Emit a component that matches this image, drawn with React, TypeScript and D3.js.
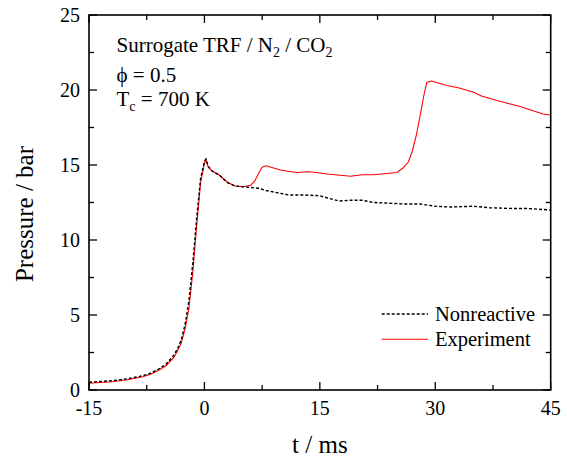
import React from "react";
import * as d3 from "d3";

const W = 567;
const H = 457;

// Nonreactive (dashed black)
const nonTime = [-15, -12, -10, -8, -7, -6, -5, -4, -3.5, -3, -2.5, -2, -1.5, -1, -0.5, 0, 0.2, 0.5, 1, 2, 3, 4, 5, 6, 7, 8, 10, 11, 13, 15, 16, 17.5, 19, 20.5, 22, 24, 26, 28, 30, 32, 35, 37, 40, 42, 45];
const nonPressure = [0.52, 0.62, 0.75, 0.95, 1.12, 1.38, 1.72, 2.3, 2.75, 3.35, 4.4, 6.0, 8.5, 11.5, 14.1, 15.25, 15.4, 14.9, 14.6, 14.3, 13.82, 13.6, 13.55, 13.5, 13.45, 13.3, 13.1, 13.0, 13.0, 12.95, 12.8, 12.6, 12.65, 12.65, 12.5, 12.45, 12.4, 12.4, 12.25, 12.2, 12.25, 12.15, 12.1, 12.1, 12.0];

// Experiment (solid red)
const expTime = [-15, -12, -10, -8, -7, -6, -5, -4, -3.5, -3, -2.5, -2, -1.5, -1, -0.5, 0, 0.2, 0.5, 1, 2, 3, 4, 5, 6, 6.5, 7, 7.5, 8, 9, 10, 12, 13.5, 14.5, 16, 18, 19, 20.5, 22, 23, 25, 25.8, 26.5, 27, 27.5, 28, 28.5, 28.9, 29.5, 30.5, 31.5, 33, 35, 36, 37, 38, 39.5, 41, 42.5, 44, 45];
const expPressure = [0.45, 0.55, 0.68, 0.88, 1.05, 1.3, 1.62, 2.15, 2.6, 3.15, 4.1, 5.5, 7.9, 11.0, 13.8, 15.1, 15.35, 14.85, 14.6, 14.3, 13.85, 13.6, 13.55, 13.65, 13.9, 14.4, 14.85, 14.95, 14.8, 14.65, 14.5, 14.55, 14.5, 14.4, 14.3, 14.25, 14.35, 14.35, 14.4, 14.5, 14.8, 15.2, 15.9, 16.9, 18.2, 19.6, 20.5, 20.6, 20.45, 20.3, 20.15, 19.85, 19.6, 19.45, 19.3, 19.1, 18.9, 18.65, 18.4, 18.33];

const xMajorTicks = [-15, 0, 15, 30, 45];
const xMinorTicks = [-7.5, 7.5, 22.5, 37.5];
const yMajorTicks = [0, 5, 10, 15, 20, 25];
const yMinorTicks = [2.5, 7.5, 12.5, 17.5, 22.5];

const FONT = "'Liberation Serif', 'Times New Roman', serif";

export default function App() {
  const left = 89;
  const right = 550.7;
  const top = 15;
  const bottom = 390;

  const x = d3.scaleLinear().domain([-15, 45]).range([left, right]);
  const y = d3.scaleLinear().domain([0, 25]).range([bottom, top]);

  const line = d3
    .line<[number, number]>()
    .x((d) => x(d[0]))
    .y((d) => y(d[1]));

  const nonData: [number, number][] = nonTime.map((t, i) => [t, nonPressure[i]]);
  const expData: [number, number][] = expTime.map((t, i) => [t, expPressure[i]]);

  const majorLen = 8;
  const minorLen = 5;

  return (
    <svg
      width={W}
      height={H}
      style={{ position: "absolute", left: 0, top: 0, background: "#fff" }}
      fontFamily={FONT}
    >
      <rect x={0} y={0} width={W} height={H} fill="#fff" />
      <defs>
        <clipPath id="plotclip">
          <rect x={left} y={top} width={right - left} height={bottom - top} />
        </clipPath>
      </defs>

      {/* data */}
      <g clipPath="url(#plotclip)">
        <path d={line(expData) || ""} fill="none" stroke="#ff0000" strokeWidth={1.1} />
        <path
          d={line(nonData) || ""}
          fill="none"
          stroke="#000"
          strokeWidth={1.4}
          strokeDasharray="3,2"
        />
      </g>

      {/* ticks */}
      <g stroke="#000" strokeWidth={1.3}>
        {xMajorTicks.map((t) => (
          <g key={"xM" + t}>
            <line x1={x(t)} x2={x(t)} y1={bottom} y2={bottom - majorLen} />
            <line x1={x(t)} x2={x(t)} y1={top} y2={top + majorLen} />
          </g>
        ))}
        {xMinorTicks.map((t) => (
          <g key={"xm" + t}>
            <line x1={x(t)} x2={x(t)} y1={bottom} y2={bottom - minorLen} />
            <line x1={x(t)} x2={x(t)} y1={top} y2={top + minorLen} />
          </g>
        ))}
        {yMajorTicks.map((v) => (
          <g key={"yM" + v}>
            <line x1={left} x2={left + majorLen} y1={y(v)} y2={y(v)} />
            <line x1={right} x2={right - majorLen} y1={y(v)} y2={y(v)} />
          </g>
        ))}
        {yMinorTicks.map((v) => (
          <g key={"ym" + v}>
            <line x1={left} x2={left + minorLen} y1={y(v)} y2={y(v)} />
            <line x1={right} x2={right - minorLen} y1={y(v)} y2={y(v)} />
          </g>
        ))}
      </g>

      {/* frame */}
      <rect
        x={left}
        y={top}
        width={right - left}
        height={bottom - top}
        fill="none"
        stroke="#000"
        strokeWidth={1.6}
      />

      {/* tick labels */}
      <g fontSize={20} fill="#000">
        {xMajorTicks.map((t) => (
          <text key={"xl" + t} x={x(t)} y={415} textAnchor="middle">
            {String(t)}
          </text>
        ))}
        {yMajorTicks.map((v) => (
          <text key={"yl" + v} x={80} y={y(v) + 6.5} textAnchor="end">
            {String(v)}
          </text>
        ))}
      </g>

      {/* axis titles */}
      <text x={(left + right) / 2} y={453} textAnchor="middle" fontSize={25} fill="#000">
        t / ms
      </text>
      <text
        transform={`translate(33, 214) rotate(-90)`}
        textAnchor="middle"
        fontSize={25}
        fill="#000"
      >
        Pressure / bar
      </text>

      {/* annotation */}
      <g fontSize={21} fill="#000">
        <text x={116.5} y={51.5}>
          Surrogate TRF / N
          <tspan dy={5} fontSize={14}>2</tspan>
          <tspan dy={-5}> / CO</tspan>
          <tspan dy={5} fontSize={14}>2</tspan>
        </text>
        <text x={116.5} y={82}>
          ϕ = 0.5
        </text>
        <text x={116.5} y={106}>
          T<tspan dy={5} fontSize={14}>c</tspan>
          <tspan dy={-5}> = 700 K</tspan>
        </text>
      </g>

      {/* legend */}
      <g>
        <line x1={381.7} x2={428} y1={314} y2={314} stroke="#000" strokeWidth={1.4} strokeDasharray="3,2" />
        <text x={435} y={320.7} fontSize={20.5} fill="#000">
          Nonreactive
        </text>
        <line x1={381.7} x2={428} y1={339.3} y2={339.3} stroke="#ff0000" strokeWidth={1.1} />
        <text x={435} y={346} fontSize={20.5} fill="#000">
          Experiment
        </text>
      </g>
    </svg>
  );
}
